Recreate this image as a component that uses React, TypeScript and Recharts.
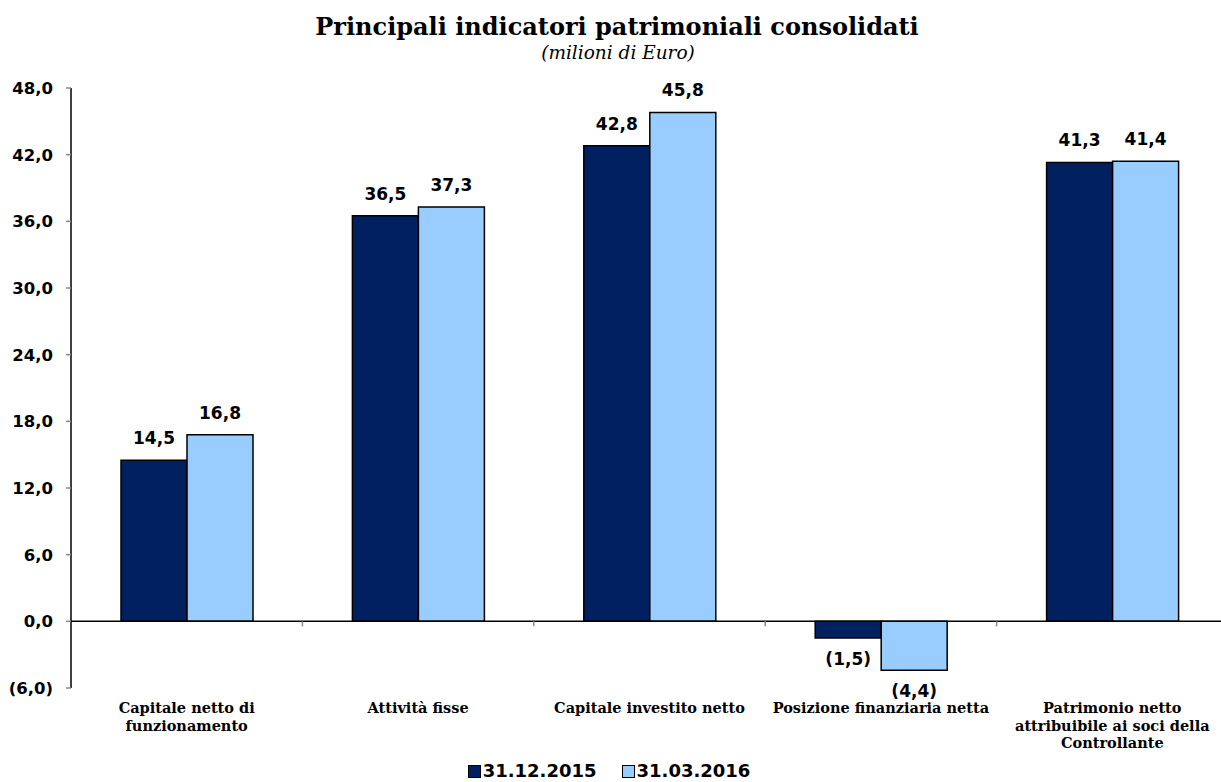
import React from "react";
import { BarChart, Bar, XAxis, YAxis, ReferenceLine, LabelList } from "recharts";

const categories = [
  "Capitale netto di\nfunzionamento",
  "Attività fisse",
  "Capitale investito netto",
  "Posizione finanziaria netta",
  "Patrimonio netto\nattribuibile ai soci della\nControllante",
];
const series2015 = [14.5, 36.5, 42.8, -1.5, 41.3];
const series2016 = [16.8, 37.3, 45.8, -4.4, 41.4];
const yTicks = [-6, 0, 6, 12, 18, 24, 30, 36, 42, 48];
const seriesNames = ["31.12.2015", "31.03.2016"];
const seriesColors = ["#002060", "#99CCFF"];

const data = categories.map((c, i) => ({ cat: c, v2015: series2015[i], v2016: series2016[i] }));

const fmt = (v: number) => {
  const s = Math.abs(v).toFixed(1).replace(".", ",");
  return v < 0 ? `(${s})` : s;
};

const SANS = "DejaVu Sans";
const SERIF = "DejaVu Serif";

const renderLabel = (props: any) => {
  const { x, y, width, height, value } = props;
  const top = Math.min(y, y + height);
  const bottom = Math.max(y, y + height);
  const cx = x + width / 2;
  const ty = value >= 0 ? top - 16 : bottom + 27;
  return (
    <text x={cx} y={ty} textAnchor="middle" fontFamily={SANS} fontWeight="bold" fontSize={17} fill="#000">
      {fmt(value)}
    </text>
  );
};

const CatTick = (props: any) => {
  const { x, y, payload } = props;
  const lines = String(payload.value).split("\n");
  return (
    <text x={x} y={y} textAnchor="middle" fontFamily={SERIF} fontWeight="bold" fontSize={14.5} fill="#000">
      {lines.map((l, i) => (
        <tspan key={i} x={x} dy={i === 0 ? 25 : 17.5}>
          {l}
        </tspan>
      ))}
    </text>
  );
};

const ZeroLine = (props: any) => {
  const { x1, y1, x2 } = props;
  const n = categories.length;
  const step = (x2 - x1) / n;
  const ticks = [];
  for (let i = 1; i < n; i++) ticks.push(x1 + i * step);
  return (
    <g>
      <line x1={x1} y1={y1} x2={x2} y2={y1} stroke="#000" strokeWidth={1.5} />
      {ticks.map((tx, i) => (
        <line key={i} x1={tx} y1={y1} x2={tx} y2={y1 + 5} stroke="#888" strokeWidth={1.5} />
      ))}
    </g>
  );
};

const LegendBox = () => (
  <div
    style={{
      position: "absolute",
      left: 0,
      top: 760,
      width: 1218,
      height: 22,
      display: "flex",
      justifyContent: "center",
      alignItems: "center",
      fontFamily: SANS,
      fontWeight: "bold",
      fontSize: 18,
      lineHeight: "22px",
      color: "#000",
    }}
  >
    {seriesNames.map((n, i) => (
      <div key={n} style={{ display: "flex", alignItems: "center", marginLeft: i === 0 ? 0 : 25 }}>
        <div
          style={{
            width: 11,
            height: 11,
            background: seriesColors[i],
            border: "1px solid #000",
            marginRight: 2,
          }}
        />
        <span>{n}</span>
      </div>
    ))}
  </div>
);

export default function App() {
  return (
    <div style={{ position: "absolute", left: 0, top: 0, width: 1221, height: 782, overflow: "hidden", background: "#fff" }}>
      <BarChart
        width={1240}
        height={782}
        data={data}
        margin={{ top: 88, right: 12, left: 0, bottom: 30 }}
        barGap={0}
      >
        <XAxis
          dataKey="cat"
          axisLine={false}
          tickLine={false}
          tickSize={0}
          tickMargin={0}
          height={64}
          interval={0}
          tick={<CatTick />}
        />
        <YAxis
          domain={[-6, 48]}
          ticks={yTicks}
          interval={0}
          width={71}
          tickFormatter={fmt}
          axisLine={{ stroke: "#000", strokeWidth: 1.5 }}
          tickLine={{ stroke: "#888", strokeWidth: 1.5 }}
          tickSize={5}
          tickMargin={13}
          tick={{ fontFamily: SANS, fontWeight: "bold", fontSize: 16.5, fill: "#000" }}
        />
        <Bar dataKey="v2015" name={seriesNames[0]} fill={seriesColors[0]} stroke="#000" strokeWidth={1.5} barSize={66} isAnimationActive={false}>
          <LabelList dataKey="v2015" content={renderLabel} />
        </Bar>
        <Bar dataKey="v2016" name={seriesNames[1]} fill={seriesColors[1]} stroke="#000" strokeWidth={1.5} barSize={66} isAnimationActive={false}>
          <LabelList dataKey="v2016" content={renderLabel} />
        </Bar>
        <ReferenceLine y={0} shape={ZeroLine} />
      </BarChart>
      <LegendBox />
      <svg width={1221} height={80} style={{ position: "absolute", left: 0, top: 0, pointerEvents: "none" }}>
        <text x={617} y={35} textAnchor="middle" fontFamily={SERIF} fontWeight="bold" fontSize={24} fill="#000">
          Principali indicatori patrimoniali consolidati
        </text>
        <text x={618} y={59} textAnchor="middle" fontFamily={SERIF} fontStyle="italic" fontSize={18.5} fill="#000">
          (milioni di Euro)
        </text>
      </svg>
    </div>
  );
}
